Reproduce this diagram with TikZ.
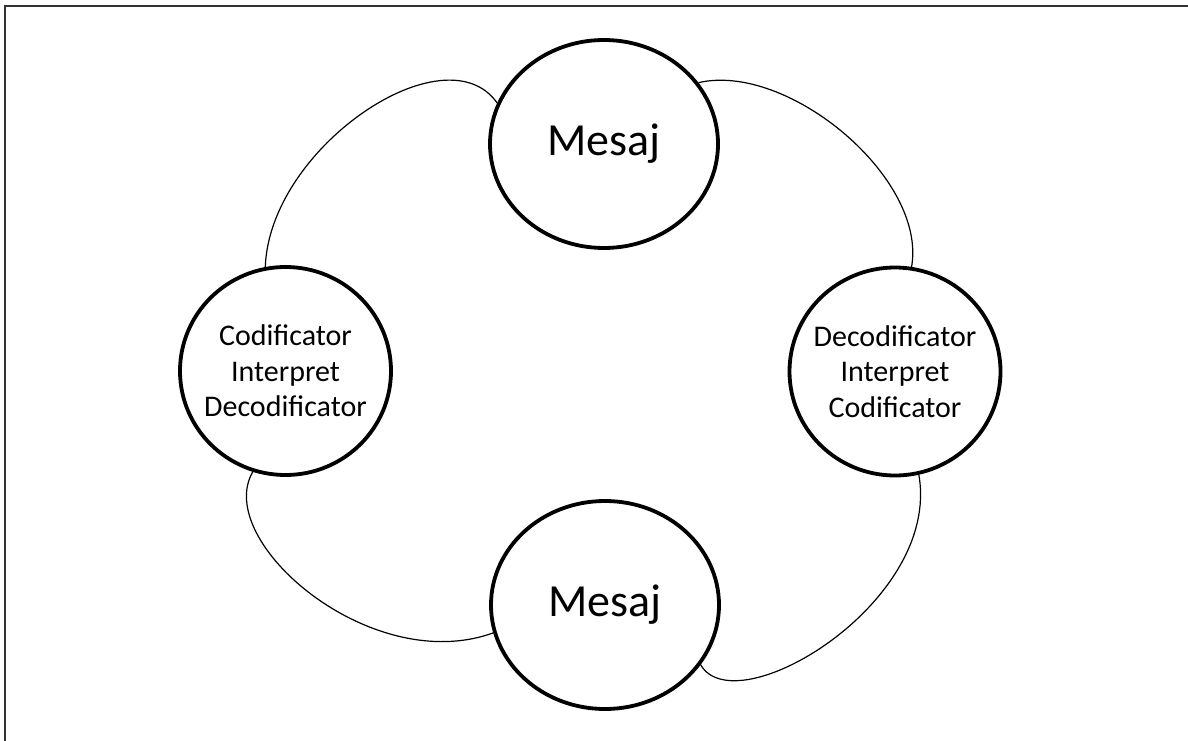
\documentclass[tikz,border=0pt]{standalone}
\usepackage{fontspec}
\setmainfont{Carlito}
\usetikzlibrary{shapes.geometric}

\begin{document}
\begin{tikzpicture}[x=1pt,y=1pt,
    bubble/.style={draw, ellipse, line width=3.8pt, inner xsep=-9pt, inner ysep=0pt, align=center},
    big bubble/.style={bubble, minimum width=228pt, minimum height=208pt, font=\fontsize{46}{55}\selectfont},
    small bubble/.style={bubble, minimum width=211pt, minimum height=208pt, font=\fontsize{30}{35.5}\selectfont},
    link/.style={line width=1.2pt}]
  \useasboundingbox (0,0) rectangle (1188,740);
  \draw[line width=1.6pt, black!80] (5,-20) rectangle (1210,734);

  \node[big bubble] (mesajsus) at (604,596) {Mesaj};
  \node[big bubble] (mesajjos) at (605,135) {Mesaj};
  \node[small bubble] (emitator) at (285.5,369) {Codificator\\Interpret\\Decodificator};
  \node[small bubble] (receptor) at (895,368.5) {Decodificator\\Interpret\\Codificator};

  \draw[link] (emitator.101) .. controls +(88:120) and +(125:90) .. (mesajsus.159);
  \draw[link] (mesajsus.33) .. controls +(13:92) and +(80:90) .. (receptor.81);
  \draw[link] (emitator.252) .. controls +(240:80) and +(200:130) .. (mesajjos.194);
  \draw[link] (mesajjos.328) .. controls +(300:70) and +(280:130) .. (receptor.283);
\end{tikzpicture}
\end{document}
